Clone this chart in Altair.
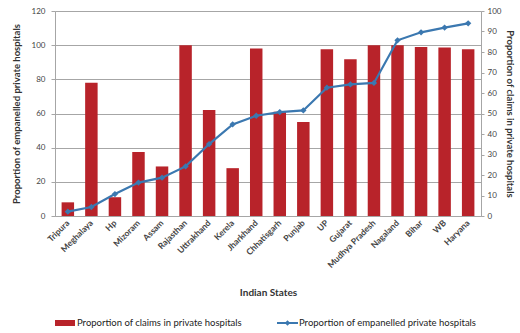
import altair as alt
import pandas as pd

states = ["Tripura", "Meghalaya", "Hp", "Mizoram", "Assam", "Rajasthan", "Uttrakhand",
          "Kerela", "Jharkhand", "Chhatisgarh", "Punjab", "UP", "Gujarat",
          "Mudhya Pradesh", "Nagaland", "Bihar", "WB", "Haryana"]
claims = [8, 78, 11, 37.5, 29, 100, 62, 28, 98, 61, 55, 97.6, 91.7, 100, 100, 99, 98.6, 97.6]
empanelled = [2.1, 4.4, 10.7, 16.3, 18.7, 24.2, 35.1, 44.7, 48.9, 50.7, 51.5, 62.6, 64.2,
              64.9, 85.7, 89.6, 91.9, 94]

df = pd.DataFrame({"state": states, "claims": claims, "empanelled": empanelled})

FONT = "Lato"
RED = "#B8232A"
BLUE = "#3B78B0"
GRID = "#A6A6A6"

x = alt.X("state:N", sort=states, title="Indian States",
          scale=alt.Scale(paddingInner=0.47, paddingOuter=0.28),
          axis=alt.Axis(labelAngle=-45, labelAlign="right", labelBaseline="middle",
                        labelFontSize=8.5, labelColor="#444444", labelFont=FONT,
                        labelFontWeight="bold",
                        ticks=False, domain=True, domainColor=GRID,
                        titleFontSize=10, titleFont=FONT, titleFontWeight="bold",
                        titleColor="#333333", titlePadding=18, labelPadding=5))

bars = alt.Chart(df).mark_bar(color=RED).encode(
    x=x,
    y=alt.Y("claims:Q", title="Proportion of empanelled private hospitals",
            scale=alt.Scale(domain=[0, 120], nice=False),
            axis=alt.Axis(values=[0, 20, 40, 60, 80, 100, 120], grid=True, gridColor=GRID,
                          gridOpacity=1, domainColor=GRID, tickColor=GRID, tickSize=4,
                          labelFontSize=8, labelColor="#444444", labelFont=FONT,
                          labelPadding=6,
                          titleFontSize=9.5, titleFont=FONT, titleFontWeight="bold",
                          titleColor="#333333", titlePadding=10))
)

line = alt.Chart(df).mark_line(
    color=BLUE, strokeWidth=2.2,
    point=alt.OverlayMarkDef(shape="diamond", filled=True, color=BLUE, size=40, opacity=1)
).encode(
    x=x,
    y=alt.Y("empanelled:Q", title="Proportion of claims in private hospitals",
            scale=alt.Scale(domain=[0, 100], nice=False),
            axis=alt.Axis(orient="right", values=list(range(0, 101, 10)), grid=False,
                          domainColor=GRID, tickColor=GRID, tickSize=3,
                          labelFontSize=8, labelColor="#444444", labelFont=FONT,
                          labelPadding=3,
                          titleFontSize=9.5, titleFont=FONT, titleFontWeight="bold",
                          titleColor="#333333", titlePadding=4))
)

one = alt.Data(values=[{"a": 1}])
leg_rect = alt.Chart(one).mark_rect(color=RED).encode(
    x=alt.value(0), x2=alt.value(20), y=alt.value(309), y2=alt.value(315))
leg_t1 = alt.Chart(one).mark_text(text="Proportion of claims in private hospitals", align="left",
                                  baseline="middle", font=FONT, fontSize=9.5, color="#222222").encode(
    x=alt.value(22), y=alt.value(312))
leg_line = alt.Chart(one).mark_rule(color=BLUE, strokeWidth=2).encode(
    x=alt.value(222), x2=alt.value(243), y=alt.value(312))
leg_pt = alt.Chart(one).mark_point(shape="diamond", filled=True, color=BLUE, size=30, opacity=1).encode(
    x=alt.value(232.5), y=alt.value(312))
leg_t2 = alt.Chart(one).mark_text(text="Proportion of empanelled private hospitals", align="left",
                                  baseline="middle", font=FONT, fontSize=9.5, color="#222222").encode(
    x=alt.value(244), y=alt.value(312))

chart = alt.layer(bars, line, leg_rect, leg_t1, leg_line, leg_pt, leg_t2).resolve_scale(
    y="independent"
).properties(
    width=426, height=205,
    autosize=alt.AutoSizeParams(type="none"),
    padding={"left": 55, "top": 11, "right": 39, "bottom": 117},
).configure_view(stroke=None).configure(background="white")

chart.save("out.html", embed_options={"renderer": "svg", "actions": False})
